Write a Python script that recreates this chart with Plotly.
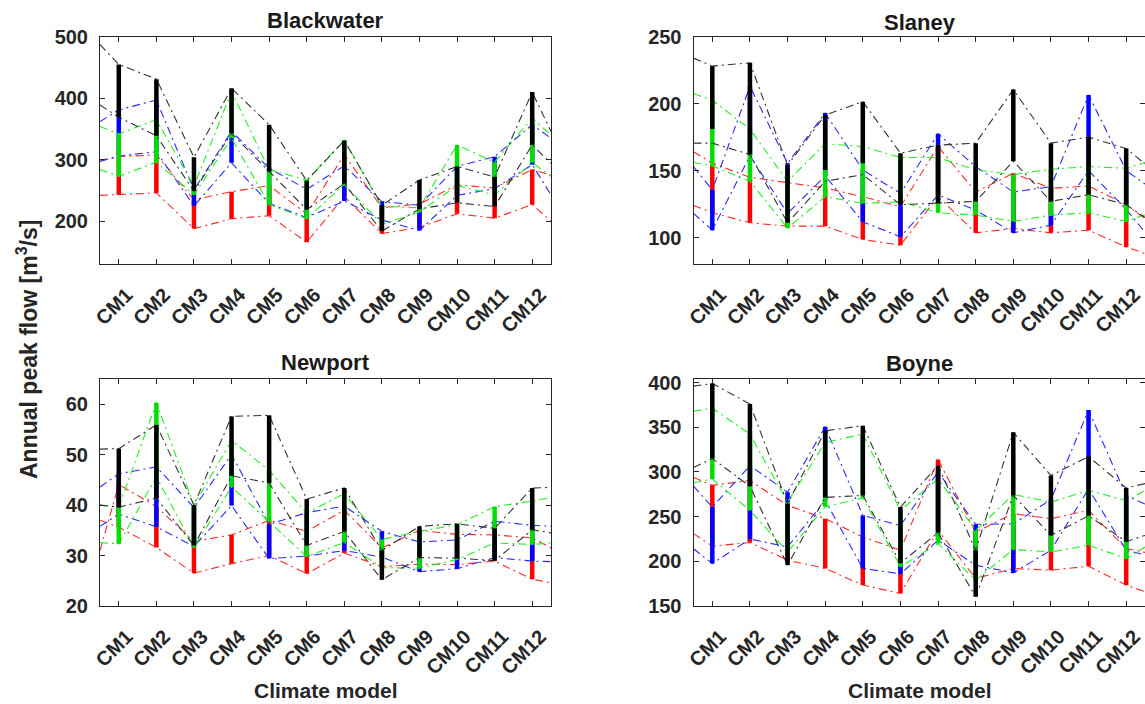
import plotly.graph_objects as go

# ---------------- data ----------------
CATEGORIES = ["CM1", "CM2", "CM3", "CM4", "CM5", "CM6",
              "CM7", "CM8", "CM9", "CM10", "CM11", "CM12"]

# Blackwater
BW_RED_HI = [305, 308, 235, 248, 258, 212, 308, 222, 228, 259, 254, 284]
BW_RED_LO = [243, 246, 188, 204, 209, 166, 240, 180, 190, 212, 205, 227]
BW_BLUE_HI = [381, 397, 251, 346, 286, 252, 290, 232, 226, 289, 305, 357]
BW_BLUE_LO = [306, 313, 225, 295, 229, 206, 233, 202, 185, 242, 253, 292]
BW_GREEN_HI = [342, 365, 257, 411, 284, 267, 332, 224, 222, 324, 296, 368]
BW_GREEN_LO = [273, 296, 243, 335, 227, 204, 260, 195, 215, 258, 243, 295]
BW_BLACK_HI = [455, 431, 304, 416, 357, 266, 331, 226, 267, 289, 272, 410]
BW_BLACK_LO = [369, 339, 249, 343, 281, 219, 261, 184, 220, 230, 224, 324]
# values where the lines meet the left / right frame
# order: red hi, red lo, blue hi, blue lo, green hi, green lo, black hi, black lo
BW_LEFT = [299, 242, 362, 297, 354, 284, 487, 389]
BW_RIGHT = [275, 200, 335, 243, 340, 273, 346, 294]

# Slaney
SL_RED_HI = [155.5, 145, 141, 137, 130.5, 123, 168, 134, 148, 136.75, 138.5, 124.5]
SL_RED_LO = [118.5, 111, 108.5, 108.5, 98.5, 94.25, 130.5, 103.5, 106.75, 103.5, 105.5, 93]
SL_BLUE_HI = [135.5, 213, 155.5, 193, 150.5, 133, 177.5, 153, 134, 138, 206.5, 150]
SL_BLUE_LO = [105.5, 161, 118, 146, 111.75, 100.5, 131.75, 120.5, 103.5, 109.25, 150, 121]
SL_GREEN_HI = [202.5, 181, 142, 170, 168, 159.75, 159.75, 150.5, 147, 151, 153, 151.75]
SL_GREEN_LO = [153.5, 142, 107, 130.5, 125.5, 126.75, 118.5, 116.75, 112, 116.75, 118.5, 112]
SL_BLACK_HI = [228, 230.5, 154, 191.5, 201.5, 163, 169, 170.5, 210.5, 170.5, 175, 166.5]
SL_BLACK_LO = [170.5, 162, 111, 142, 147, 124.5, 125.5, 127, 157, 127, 132, 124.5]
SL_BLACK_BAR_LO = [181, 162, 111, 150.5, 155.5, 124.5, 125.5, 127, 157, 127, 132, 124.5]
SL_LEFT = [164, 124, 153, 118, 207.5, 156, 234, 170.5]
SL_RIGHT = [114, 88, 140, 104, 156, 117, 155, 115]

# Newport
NP_RED_HI = [44.1, 39.7, 32.8, 34.1, 37.0, 34.8, 39.0, 31.5, 35.0, 34.2, 34.1, 33.5]
NP_RED_LO = [35.6, 31.6, 26.5, 28.4, 30.0, 26.4, 30.5, 27.8, 28.3, 28.2, 28.9, 25.3]
NP_BLUE_HI = [46.2, 47.6, 39.5, 50.0, 36.2, 38.5, 39.8, 34.8, 32.7, 33.1, 36.8, 36.0]
NP_BLUE_LO = [38.2, 35.7, 31.8, 39.9, 29.4, 29.9, 31.0, 29.7, 26.8, 27.4, 29.6, 28.9]
NP_GREEN_HI = [39.6, 60.3, 40.0, 52.8, 46.9, 38.4, 42.3, 33.2, 34.8, 36.1, 39.7, 40.8]
NP_GREEN_LO = [32.3, 45.6, 31.6, 43.6, 36.7, 29.8, 32.6, 27.6, 27.5, 29.2, 32.5, 32.2]
NP_BLACK_HI = [51.2, 55.9, 40.0, 57.6, 57.8, 41.2, 43.4, 31.0, 35.8, 36.3, 35.4, 43.4]
NP_BLACK_LO = [39.6, 41.4, 32.0, 45.8, 44.4, 32.0, 34.8, 25.2, 29.6, 29.5, 29.0, 35.1]
NP_LEFT = [31.0, 37.0, 43.6, 35.8, 40.0, 32.6, 51.1, 40.0]
NP_RIGHT = [31.5, 24.6, 35.8, 28.8, 41.5, 32.5, 43.5, 34.5]

# Boyne
BY_RED_HI = [285, 290.4, 262.6, 247.7, 227.3, 212.4, 313.8, 232.8, 253.3, 247.7, 257, 214.3]
BY_RED_LO = [216.9, 221, 201.3, 192, 173.4, 164.1, 234.7, 180.8, 192, 190, 194.6, 173.4]
BY_BLUE_HI = [260.7, 307, 277.4, 350.6, 251.4, 240, 300, 241.4, 242, 269, 369.2, 273.7]
BY_BLUE_LO = [197.5, 225, 216, 268, 192, 186, 223.6, 195.7, 187.1, 212.4, 281, 212.4]
BY_GREEN_HI = [371.4, 342.4, 266.3, 333, 342.4, 257, 292.3, 234.7, 274.8, 266.3, 279.3, 268]
BY_GREEN_LO = [292, 257, 210.5, 261, 271, 194, 219.8, 179, 213.2, 210.5, 218, 203]
BY_BLACK_HI = [399, 376, 264.5, 346, 351.7, 260.7, 307, 212.4, 344.3, 296, 317.2, 282]
BY_BLACK_LO = [315, 284, 195.7, 271.5, 273.7, 198, 232, 160.4, 273.7, 229, 251, 222]
BY_LEFT = [294, 231, 284, 214, 368, 288, 396, 305]
BY_RIGHT = [210, 166, 264, 207, 279, 216, 287, 229]

# ---------------- styling ----------------
COLORS = ["#ff0000", "#0000ff", "#00dd00", "#000000"]
LINE_COLORS = ["#ff2a2a", "#2a2aff", "#22ee22", "#333333"]
FONT = "Liberation Sans, Arial, Helvetica, sans-serif"
AXC = "#262626"
DASH = "8px,4px,2px,4px"

n = len(CATEGORIES)
CM_POS = list(range(1, n + 1))
X_LINE = [0.5] + CM_POS + [n + 0.5]

panels = [
    dict(name="Blackwater", ax="", yr=[130, 500], yt=[200, 300, 400, 500],
         series=[(BW_RED_HI, BW_RED_LO), (BW_BLUE_HI, BW_BLUE_LO),
                 (BW_GREEN_HI, BW_GREEN_LO), (BW_BLACK_HI, BW_BLACK_LO)],
         left=BW_LEFT, right=BW_RIGHT, bars={}),
    dict(name="Slaney", ax="2", yr=[80, 250], yt=[100, 150, 200, 250],
         series=[(SL_RED_HI, SL_RED_LO), (SL_BLUE_HI, SL_BLUE_LO),
                 (SL_GREEN_HI, SL_GREEN_LO), (SL_BLACK_HI, SL_BLACK_LO)],
         left=SL_LEFT, right=SL_RIGHT, bars={3: (SL_BLACK_HI, SL_BLACK_BAR_LO)}),
    dict(name="Newport", ax="3", yr=[20, 65], yt=[20, 30, 40, 50, 60],
         series=[(NP_RED_HI, NP_RED_LO), (NP_BLUE_HI, NP_BLUE_LO),
                 (NP_GREEN_HI, NP_GREEN_LO), (NP_BLACK_HI, NP_BLACK_LO)],
         left=NP_LEFT, right=NP_RIGHT, bars={}),
    dict(name="Boyne", ax="4", yr=[150, 404], yt=[150, 200, 250, 300, 350, 400],
         series=[(BY_RED_HI, BY_RED_LO), (BY_BLUE_HI, BY_BLUE_LO),
                 (BY_GREEN_HI, BY_GREEN_LO), (BY_BLACK_HI, BY_BLACK_LO)],
         left=BY_LEFT, right=BY_RIGHT, bars={}),
]

fig = go.Figure()

for p in panels:
    xa = "x" + p["ax"]
    ya = "y" + p["ax"]
    for ci, (hi, lo) in enumerate(p["series"]):
        # two dash-dot lines per colour
        for k, vals in enumerate((hi, lo)):
            yv = [p["left"][2 * ci + k]] + list(vals) + [p["right"][2 * ci + k]]
            fig.add_trace(go.Scatter(
                x=X_LINE, y=yv, mode="lines", xaxis=xa, yaxis=ya,
                line=dict(color=LINE_COLORS[ci], width=1.1, dash=DASH),
                showlegend=False, hoverinfo="skip"))
        # thick vertical bars
        bhi, blo = p["bars"].get(ci, (hi, lo))
        bx, by = [], []
        for i in range(n):
            bx += [CM_POS[i], CM_POS[i], None]
            by += [blo[i], bhi[i], None]
        fig.add_trace(go.Scatter(
            x=bx, y=by, mode="lines", xaxis=xa, yaxis=ya,
            line=dict(color=COLORS[ci], width=4.5),
            showlegend=False, hoverinfo="skip"))

# ---------------- layout ----------------
W, H = 1145, 704
XL = [100 / W, 551 / W]
XR = [693.5 / W, 1.0]
YT = [1 - 264.3 / H, 1 - 36.7 / H]
YB = [1 - 606 / H, 1 - 379 / H]

tickfont = dict(family=FONT, size=20, color=AXC, weight="bold")


def xaxis(domain, anchor):
    return dict(domain=domain, anchor=anchor, range=[0.5, n + 0.5],
                tickmode="array", tickvals=CM_POS, ticktext=CATEGORIES,
                tickangle=-45, ticks="inside", ticklen=5, tickcolor=AXC,
                showline=True, linecolor=AXC, linewidth=1, mirror="ticks",
                showgrid=False, zeroline=False, tickfont=tickfont,
                ticklabelshift=8, ticklabelstandoff=10, automargin=False)


def yaxis(domain, anchor, rng, tv):
    return dict(domain=domain, anchor=anchor, range=rng, tickmode="array",
                tickvals=tv, ticks="inside", ticklen=5, tickcolor=AXC,
                showline=True, linecolor=AXC, linewidth=1, mirror="ticks",
                showgrid=False, zeroline=False, tickfont=tickfont,
                ticklabelstandoff=7, automargin=False)


fig.update_layout(
    width=W, height=H,
    margin=dict(l=0, r=0, t=0, b=0, autoexpand=False),
    paper_bgcolor="white", plot_bgcolor="white",
    xaxis=xaxis(XL, "y"), yaxis=yaxis(YT, "x", panels[0]["yr"], panels[0]["yt"]),
    xaxis2=xaxis(XR, "y2"), yaxis2=yaxis(YT, "x2", panels[1]["yr"], panels[1]["yt"]),
    xaxis3=xaxis(XL, "y3"), yaxis3=yaxis(YB, "x3", panels[2]["yr"], panels[2]["yt"]),
    xaxis4=xaxis(XR, "y4"), yaxis4=yaxis(YB, "x4", panels[3]["yr"], panels[3]["yt"]),
)

title_font = dict(family=FONT, size=22, color="#1a1a1a", weight="bold")
label_font = dict(family=FONT, size=21, color=AXC, weight="bold")
cx_left = (XL[0] + XL[1]) / 2
cx_right = (693.5 / W + 1146 / W) / 2
ann = [
    dict(text="Blackwater", x=cx_left, y=1 - 21 / H),
    dict(text="Slaney", x=cx_right, y=1 - 22 / H),
    dict(text="Newport", x=cx_left, y=1 - 362 / H),
    dict(text="Boyne", x=cx_right, y=1 - 363 / H),
]
for a in ann:
    fig.add_annotation(xref="paper", yref="paper", showarrow=False,
                       xanchor="center", yanchor="middle", font=title_font, **a)
for cx in (cx_left, cx_right):
    fig.add_annotation(text="Climate model", xref="paper", yref="paper",
                       x=cx, y=1 - 690 / H, showarrow=False,
                       xanchor="center", yanchor="middle", font=label_font)
fig.add_annotation(text="Annual peak flow [m<sup>3</sup>/s]", xref="paper",
                   yref="paper", x=27 / W, y=1 - 350 / H, textangle=-90,
                   showarrow=False, xanchor="center", yanchor="middle",
                   font=dict(family=FONT, size=23, color=AXC, weight="bold"))

fig.write_html(
    "out.html",
    config={"displayModeBar": False},
    post_script="document.body.style.margin='0';document.body.style.overflow='hidden';",
)
